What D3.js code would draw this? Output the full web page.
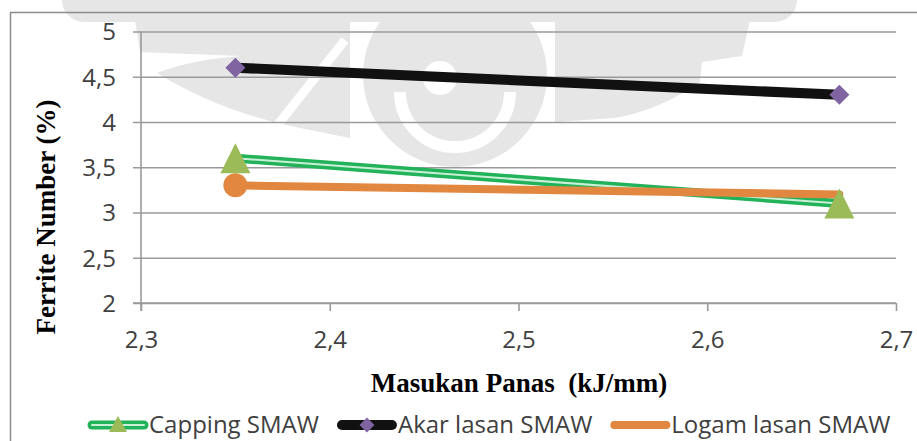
<!DOCTYPE html>
<html>
<head>
<meta charset="utf-8">
<script src="https://cdn.jsdelivr.net/npm/d3@7/dist/d3.min.js"></script>
<style>
  html, body { margin: 0; padding: 0; background: #fff; }
  svg { display: block; }
</style>
</head>
<body>
<svg id="chart" width="917" height="441"></svg>
<script>
// Heat input (kJ/mm) on the x axis
const heatInput = [2.35, 2.67];
// Ferrite number (%) per weld region
const cappingSMAW = [3.6, 3.1];
const akarLasanSMAW = [4.6, 4.3];
const logamLasanSMAW = [3.3, 3.2];
// Logam lasan only carries a marker on its first point
const logamMarkerShown = [true, false];

const seriesNames = ["Capping SMAW", "Akar lasan SMAW", "Logam lasan SMAW"];
const xTickValues = [2.3, 2.4, 2.5, 2.6, 2.7];
const yTickValues = [2, 2.5, 3, 3.5, 4, 4.5, 5];
const xTitle = "Masukan Panas  (kJ/mm)";
const yTitle = "Ferrite Number (%)";

const svg = d3.select("#chart");
const W = 917, H = 441;
const plot = { left: 141, right: 896, top: 31.5, bottom: 303 };

const locale = d3.formatLocale({ decimal: ",", thousands: ".", grouping: [3], currency: ["", ""] });
const fmt = locale.format("~g");

const x = d3.scaleLinear().domain([2.3, 2.7]).range([plot.left, plot.right]);
const y = d3.scaleLinear().domain([2, 5]).range([plot.bottom, plot.top]);

svg.append("rect").attr("width", W).attr("height", H).attr("fill", "#fff");

// faint background emblem
const emblemFill = "#e6e6e6";
const emblem = svg.append("g").attr("fill", emblemFill);
emblem.append("rect").attr("x", 62).attr("y", -24).attr("width", 735).attr("height", 46).attr("rx", 22);
emblem.append("path").attr("d", "M135 20 L350 20 L350 138 L300 128 Q220 112 157 73 Q190 60 240 56 L140 52 Z");
emblem.append("circle").attr("cx", 455).attr("cy", 75).attr("r", 92);
emblem.append("path").attr("d", "M555 20 L750 20 L742 56 L702 62 L700 82 Q660 110 615 118 L555 122 Z");
const emblemCut = svg.append("g").attr("fill", "none").attr("stroke", "#fff");
emblemCut.append("path").attr("d", "M345 40 L268 137").attr("stroke-width", 9);
emblemCut.append("path").attr("d", "M400 92 A 55 55 0 0 0 510 92").attr("stroke-width", 12);
svg.append("circle").attr("cx", 440).attr("cy", 78).attr("r", 17).attr("fill", "#fff");

// chart frame
svg.append("rect")
  .attr("x", 10.5).attr("y", 12.5).attr("width", 1000).attr("height", 1000)
  .attr("fill", "none").attr("stroke", "#8c8c8c").attr("stroke-width", 1.5);

// y axis with gridlines
const yAxis = svg.append("g")
  .attr("transform", `translate(${plot.left},0)`)
  .call(d3.axisLeft(y).tickValues(yTickValues).tickFormat(fmt)
    .tickSizeInner(-(plot.right - plot.left)).tickSizeOuter(0).tickPadding(25));
yAxis.select(".domain").remove();
yAxis.selectAll(".tick line").attr("x1", -8).attr("stroke", "#9a9a9a").attr("stroke-width", 1.6);
yAxis.selectAll(".tick text")
  .attr("font-family", "'Open Sans', sans-serif").attr("font-size", 24)
  .attr("fill", "#404040").attr("dy", "0.35em");

// y axis line
svg.append("line")
  .attr("x1", plot.left).attr("x2", plot.left)
  .attr("y1", y(5)).attr("y2", plot.bottom + 8)
  .attr("stroke", "#9a9a9a").attr("stroke-width", 1.6);

// x axis
const xAxis = svg.append("g")
  .attr("transform", `translate(0,${plot.bottom})`)
  .call(d3.axisBottom(x).tickValues(xTickValues).tickFormat(fmt)
    .tickSizeInner(8).tickSizeOuter(0).tickPadding(20));
xAxis.select(".domain").attr("stroke", "#9a9a9a").attr("stroke-width", 1.6)
  .attr("d", `M${plot.left - 8},0H${plot.right}`);
xAxis.selectAll(".tick line").attr("stroke", "#9a9a9a").attr("stroke-width", 1.6);
xAxis.selectAll(".tick text")
  .attr("font-family", "'Open Sans', sans-serif").attr("font-size", 24)
  .attr("fill", "#404040");

// axis titles
svg.append("text")
  .attr("x", 519).attr("y", 392)
  .attr("text-anchor", "middle")
  .attr("font-family", "'Liberation Serif', 'Times New Roman', serif")
  .attr("font-weight", "bold").attr("font-size", 27).attr("fill", "#000")
  .attr("xml:space", "preserve")
  .text(xTitle);

svg.append("text")
  .attr("transform", `translate(55,217) rotate(-90)`)
  .attr("text-anchor", "middle")
  .attr("font-family", "'Liberation Serif', 'Times New Roman', serif")
  .attr("font-weight", "bold").attr("font-size", 27).attr("fill", "#000")
  .text(yTitle);

// series lines
const line = d3.line().x(d => x(d[0])).y(d => y(d[1]));
const pts = vals => heatInput.map((h, i) => [h, vals[i]]);

const green = "#22b25a", greenStripe = "#c9f0d6";
const orange = "#e2873f", black = "#111111";
const olive = "#9bbb59", purple = "#8064a2";

const lines = svg.append("g").attr("fill", "none").attr("stroke-linecap", "round").attr("stroke-linejoin", "round");
lines.append("path").attr("d", line(pts(cappingSMAW))).attr("stroke", green).attr("stroke-width", 9);
lines.append("path").attr("d", line(pts(cappingSMAW))).attr("stroke", greenStripe).attr("stroke-width", 2);
lines.append("path").attr("d", line(pts(akarLasanSMAW))).attr("stroke", black).attr("stroke-width", 10);
lines.append("path").attr("d", line(pts(logamLasanSMAW))).attr("stroke", orange).attr("stroke-width", 8);

// markers
const diamond = d3.symbol().type(d3.symbolSquare);

svg.append("g").selectAll("circle")
  .data(pts(logamLasanSMAW).filter((d, i) => logamMarkerShown[i]))
  .join("circle")
  .attr("cx", d => x(d[0])).attr("cy", d => y(d[1])).attr("r", 12)
  .attr("fill", orange);

// triangles: 30 px base, 30 px tall, centred on the value
svg.append("g").selectAll("path")
  .data(pts(cappingSMAW))
  .join("path")
  .attr("d", d => `M${x(d[0])},${y(d[1]) - 15}L${x(d[0]) + 15},${y(d[1]) + 15}L${x(d[0]) - 15},${y(d[1]) + 15}Z`)
  .attr("fill", olive);

svg.append("g").selectAll("path")
  .data(pts(akarLasanSMAW))
  .join("path")
  .attr("d", diamond.size(200))
  .attr("transform", d => `translate(${x(d[0])},${y(d[1])}) rotate(45)`)
  .attr("fill", purple);

// legend
const legend = svg.append("g")
  .attr("font-family", "'Open Sans', sans-serif").attr("font-size", 24).attr("fill", "#404040");
const legendY = 425;
let lx = 88;
seriesNames.forEach((name, i) => {
  const g = legend.append("g").attr("transform", `translate(${lx},${legendY})`);
  const sym = g.append("g").attr("stroke-linecap", "round");
  if (i === 0) {
    sym.append("line").attr("x1", 4).attr("x2", 56).attr("stroke", green).attr("stroke-width", 9);
    sym.append("line").attr("x1", 4).attr("x2", 56).attr("stroke", greenStripe).attr("stroke-width", 2);
    sym.append("path").attr("d", "M30,-9L39,7L21,7Z").attr("fill", olive);
  } else if (i === 1) {
    sym.append("line").attr("x1", 5).attr("x2", 55).attr("stroke", black).attr("stroke-width", 10);
    sym.append("path").attr("d", diamond.size(110)).attr("transform", "translate(30,0) rotate(45)").attr("fill", purple);
  } else {
    sym.append("line").attr("x1", 4).attr("x2", 56).attr("stroke", orange).attr("stroke-width", 8);
  }
  const t = g.append("text").attr("x", 61).attr("dy", "0.35em").text(name);
  lx += 61 + t.node().getComputedTextLength() + 18;
});
</script>
</body>
</html>
